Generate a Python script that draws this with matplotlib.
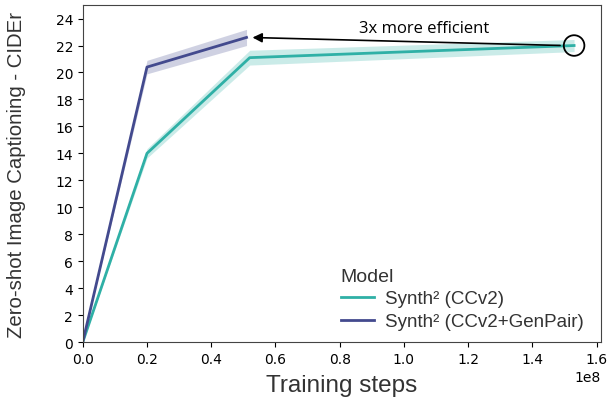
import matplotlib
matplotlib.use('Agg')
import matplotlib.pyplot as plt
import numpy as np

# Data
steps_ccv2 = [0.0, 2.0e7, 5.2e7, 1.53e8]
cider_ccv2 = [0.0, 14.0, 21.1, 22.0]
err_ccv2 = [0.0, 0.35, 0.55, 0.45]

steps_gen = [0.0, 2.0e7, 5.1e7]
cider_gen = [0.0, 20.4, 22.6]
err_gen = [0.0, 0.5, 0.6]

teal = '#2fb0a6'
navy = '#434a8e'
label_font = 'Liberation Sans'

fig = plt.figure(figsize=(6.13, 4.06), dpi=100)
ax = fig.add_axes([0.135, 0.155, 0.845, 0.83])

for xs, ys, es, c, lab in [(steps_ccv2, cider_ccv2, err_ccv2, teal, 'Synth\u00b2 (CCv2)'),
                           (steps_gen, cider_gen, err_gen, navy, 'Synth\u00b2 (CCv2+GenPair)')]:
    xs = np.array(xs)
    ys = np.array(ys)
    es = np.array(es)
    ax.fill_between(xs, ys - es, ys + es, color=c, alpha=0.25, linewidth=0)
    ax.plot(xs, ys, color=c, linewidth=2, label=lab)

ax.set_xlim(0, 1.613e8)
ax.set_ylim(0, 25)
ax.set_yticks(np.arange(0, 25, 2))
ax.tick_params(labelsize=10)

ax.set_xlabel('Training steps', fontsize=17.5, family=label_font, color='#333333', labelpad=6)
ax.set_ylabel('Zero-shot Image Captioning - CIDEr', fontsize=14.7, family=label_font, color='#333333', labelpad=21)

for s in ax.spines.values():
    s.set_color('#444444')

# circle and arrow annotation
ax.scatter([steps_ccv2[-1]], [cider_ccv2[-1]], s=220, facecolors='none', edgecolors='black', linewidths=1.3, zorder=5)
ax.annotate('', xy=(steps_gen[-1] + 0.1e7, cider_gen[-1]), xytext=(steps_ccv2[-1] - 0.35e7, cider_ccv2[-1]),
            arrowprops=dict(arrowstyle='-|>', color='black', lw=1.2, mutation_scale=14))
ax.text(1.062e8, 23.3, '3x more efficient', fontsize=12, family='Open Sans', ha='center', va='center')

leg = ax.legend(title='Model', loc='lower right', frameon=False,
                title_fontsize=14, prop={'family': label_font, 'size': 13.5},
                bbox_to_anchor=(1.0, -0.015), alignment='left', handlelength=1.76,
                handletextpad=0.6, labelspacing=0.3)
leg.get_title().set_family(label_font)
leg.get_title().set_color('#333333')
for t in leg.get_texts():
    t.set_color('#333333')

fig.savefig('out.png', dpi=100)
